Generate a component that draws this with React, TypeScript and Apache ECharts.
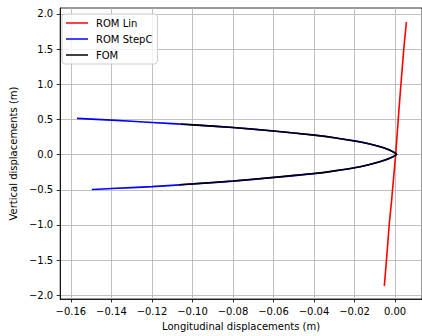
import React, { useEffect, useRef } from "react";
import * as echarts from "echarts";

const xTicks = [-0.16, -0.14, -0.12, -0.1, -0.08, -0.06, -0.04, -0.02, 0.0];
const yTicks = [-2.0, -1.5, -1.0, -0.5, 0.0, 0.5, 1.0, 1.5, 2.0];

const seriesNames = ["ROM Lin", "ROM StepC", "FOM"];

// ROM Lin: [x, y]
const romLin: number[][] = [
  [-0.0053, -1.87], [-0.0041, -1.45], [-0.0029, -1.0], [-0.0017, -0.65],
  [0.0003, 0.0], [0.0019, 0.63], [0.0029, 1.0], [0.0043, 1.5], [0.0056, 1.886],
];

// ROM StepC: [x, y]
const romStepC: number[][] = [
  [-0.157, 0.516], [-0.14, 0.49], [-0.12, 0.457], [-0.1, 0.424], [-0.08, 0.386],
  [-0.06, 0.336], [-0.04, 0.278], [-0.03, 0.24], [-0.02, 0.195], [-0.013, 0.155],
  [-0.008, 0.118], [-0.004, 0.08], [-0.001, 0.04], [0.0008, 0.005],
  [-0.001, -0.03], [-0.004, -0.068], [-0.008, -0.106], [-0.013, -0.145],
  [-0.02, -0.187], [-0.03, -0.232], [-0.04, -0.27], [-0.06, -0.325],
  [-0.08, -0.377], [-0.1, -0.417], [-0.12, -0.455], [-0.14, -0.482], [-0.1497, -0.496],
];

// FOM: [x, y]
const fom: number[][] = [
  [-0.1057, 0.433], [-0.1, 0.423], [-0.08, 0.385],
  [-0.06, 0.335], [-0.04, 0.277], [-0.03, 0.239], [-0.02, 0.194], [-0.013, 0.154],
  [-0.008, 0.117], [-0.004, 0.079], [-0.001, 0.039], [0.0008, 0.005],
  [-0.001, -0.029], [-0.004, -0.067], [-0.008, -0.105], [-0.013, -0.144],
  [-0.02, -0.186], [-0.03, -0.231], [-0.04, -0.269], [-0.06, -0.324],
  [-0.08, -0.376], [-0.1, -0.416], [-0.1067, -0.428],
];

const colors = ["#ff0000", "#0000ff", "#000000"];
const FONT = "DejaVu Sans";

const fmtX = (v: number) => {
  const s = v.toFixed(2);
  return s === "-0.00" ? "0.00" : s.replace("-", "\u2212");
};
const fmtY = (v: number) => {
  const s = v.toFixed(1);
  return s === "-0.0" ? "0.0" : s.replace("-", "\u2212");
};

export default function App() {
  const ref = useRef<HTMLDivElement>(null);
  useEffect(() => {
    if (!ref.current) return;
    const chart = echarts.init(ref.current, undefined, { renderer: "svg" });
    const axisCommon = {
      type: "value" as const,
      axisLine: { show: true, onZero: false, lineStyle: { color: "#000", width: 0.8 } },
      splitLine: { show: true, lineStyle: { color: "#b0b0b0", width: 0.8 } },
      nameLocation: "middle" as const,
      nameTextStyle: { fontFamily: FONT, fontSize: 10, color: "#000" },
    };
    chart.setOption({
      animation: false,
      backgroundColor: "#fff",
      grid: {
        left: 57, top: 8, width: 368, height: 291,
        show: true, borderColor: "#000", borderWidth: 0.8, backgroundColor: "transparent",
      },
      legend: {
        orient: "vertical",
        left: 62,
        top: 14,
        data: seriesNames.map((n) => ({ name: n, icon: "rect" })),
        itemWidth: 22,
        itemHeight: 1.5,
        itemGap: 4,
        padding: [3, 5, 3, 4],
        backgroundColor: "rgba(255,255,255,0.8)",
        borderColor: "#cccccc",
        borderWidth: 1,
        borderRadius: 3,
        textStyle: { fontFamily: FONT, fontSize: 10, color: "#000", lineHeight: 12, padding: [0, 0, 0, 3] },
      },
      xAxis: {
        ...axisCommon,
        min: -0.1653,
        max: 0.0133,
        minInterval: 0.02,
        maxInterval: 0.02,
        name: "Longitudinal displacements (m)",
        nameGap: 22,
        axisTick: { show: true, inside: false, length: 3.5, customValues: xTicks, lineStyle: { color: "#000", width: 0.8 } },
        axisLabel: { customValues: xTicks, margin: 7, fontFamily: FONT, fontSize: 10, color: "#000", formatter: fmtX },
      },
      yAxis: {
        ...axisCommon,
        min: -2.053,
        max: 2.085,
        minInterval: 0.5,
        maxInterval: 0.5,
        name: "Vertical displacements (m)",
        nameGap: 35,
        axisTick: { show: true, inside: false, length: 3.5, customValues: yTicks, lineStyle: { color: "#000", width: 0.8 } },
        axisLabel: { customValues: yTicks, margin: 7, fontFamily: FONT, fontSize: 10, color: "#000", formatter: fmtY },
      },
      series: [romLin, romStepC, fom].map((d, i) => ({
        name: seriesNames[i],
        type: "line",
        data: d,
        showSymbol: false,
        symbol: "none",
        smooth: i === 0 ? false : 0.3,
        color: colors[i],
        lineStyle: { color: colors[i], width: 1.6 },
        z: 2 + i,
      })),
    });
    return () => chart.dispose();
  }, []);
  return (
    <div
      ref={ref}
      style={{ position: "fixed", left: 0, top: 0, width: 422, height: 336, background: "#fff" }}
    />
  );
}
